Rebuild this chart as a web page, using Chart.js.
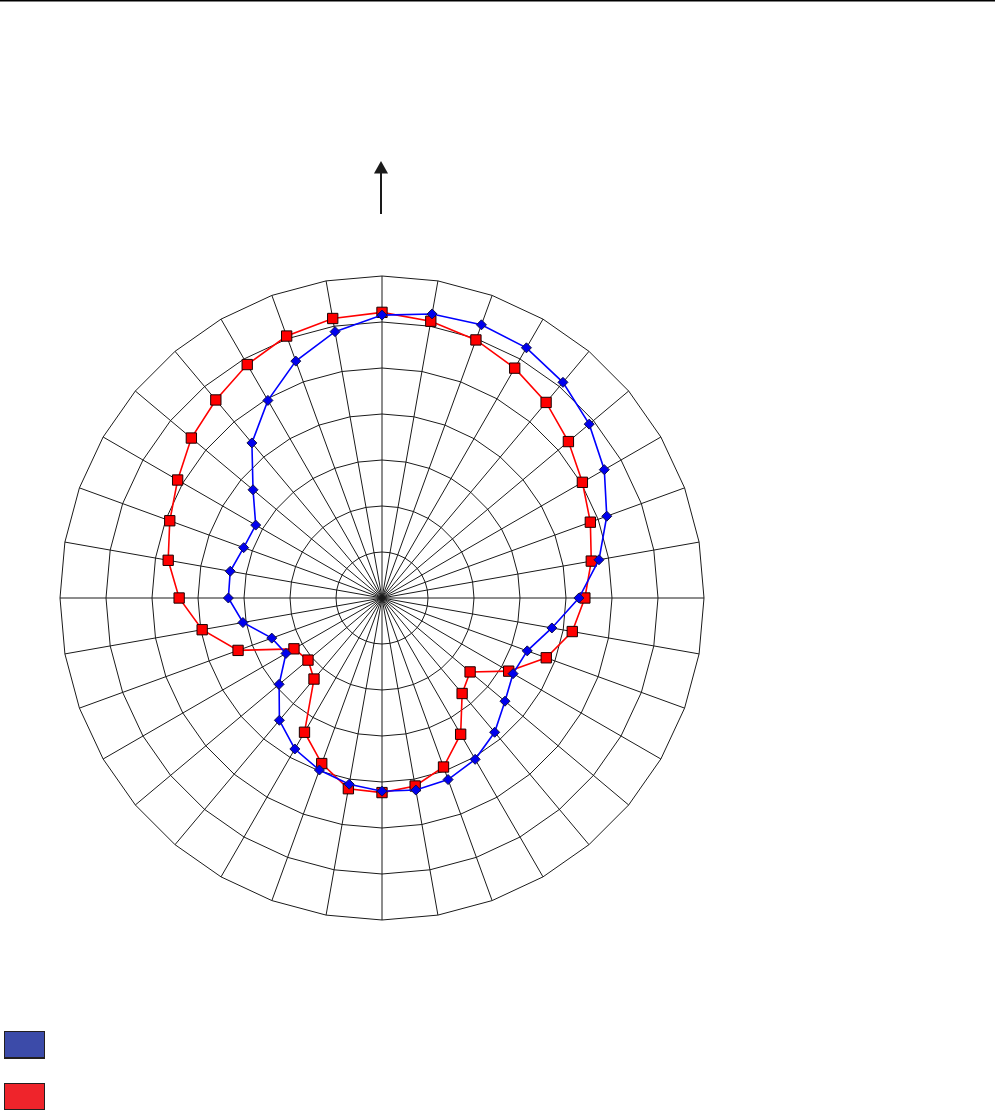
<!DOCTYPE html>
<html>
<head>
<meta charset="utf-8">
<script src="https://cdn.jsdelivr.net/npm/chart.js@4.4.1/dist/chart.umd.min.js"></script>
<style>
  html, body { margin: 0; padding: 0; background: #ffffff; }
  #wrap { position: relative; width: 999px; height: 1110px; overflow: hidden; }
  #c { position: absolute; left: 0; top: 0; }
  .lg { position: absolute; left: 4px; width: 39px; height: 25px; border: 1px solid #231f20; border-bottom-width: 2px; }
</style>
</head>
<body>
<div id="wrap">
  <canvas id="c" width="999" height="1110"></canvas>
  <div id="legend"></div>
</div>
<script>
// Directions (degrees, clockwise from north)
const directions = ['0','10','20','30','40','50','60','70','80','90','100','110','120','130','140','150','160','170',
                    '180','190','200','210','220','230','240','250','260','270','280','290','300','310','320','330','340','350'];
// Series values (radial units, 7 rings)
const blueSeries = [6.15, 6.27, 6.32, 6.28, 6.12, 5.88, 5.58, 5.20, 4.79, 4.28, 3.75, 3.36, 3.29, 3.49, 3.81, 4.05, 4.20, 4.24,
                    4.20, 4.11, 3.98, 3.79, 3.47, 2.92, 2.41, 2.55, 3.07, 3.34, 3.35, 3.20, 3.17, 3.66, 4.40, 4.96, 5.48, 5.88];
const redSeries  = [6.21, 6.11, 5.97, 5.77, 5.55, 5.29, 5.03, 4.82, 4.62, 4.41, 4.20, 3.80, 3.18, 2.50, 2.71, 3.42, 3.91, 4.15,
                    4.23, 4.21, 3.83, 3.37, 2.30, 2.10, 2.21, 3.33, 3.97, 4.41, 4.72, 4.91, 5.13, 5.41, 5.62, 5.86, 6.06, 6.17];
const radialMin = 0;
const radialMax = 7;
const radialStep = 1;
const legendColors = ['#3c4ba9', '#ef242b'];

const decor = {
  id: 'decor',
  afterDraw(chart) {
    const ctx = chart.ctx;
    const r = chart.scales.r;
    ctx.save();
    // top rule
    ctx.strokeStyle = '#000000';
    ctx.lineWidth = 1.5;
    ctx.beginPath();
    ctx.moveTo(0, 0.75);
    ctx.lineTo(995, 0.75);
    ctx.stroke();
    // north arrow
    const ax = r.xCenter - 1;
    ctx.strokeStyle = '#1a1a1a';
    ctx.fillStyle = '#1a1a1a';
    ctx.lineWidth = 2;
    ctx.beginPath();
    ctx.moveTo(ax, 214);
    ctx.lineTo(ax, 172);
    ctx.stroke();
    ctx.beginPath();
    ctx.moveTo(ax, 161);
    ctx.lineTo(ax + 7, 173.5);
    ctx.lineTo(ax - 7, 173.5);
    ctx.closePath();
    ctx.fill();
    ctx.restore();
  }
};

const chart = new Chart(document.getElementById('c'), {
  type: 'radar',
  data: {
    labels: directions,
    datasets: [
      {
        label: '',
        data: blueSeries,
        borderColor: '#0000ff',
        borderWidth: 1.6,
        backgroundColor: '#0000ee',
        pointBackgroundColor: '#0000ee',
        pointBorderColor: '#10104a',
        pointBorderWidth: 1,
        pointStyle: 'rectRot',
        pointRadius: 5,
        pointHoverRadius: 5,
        fill: false,
        tension: 0
      },
      {
        label: '',
        data: redSeries,
        borderColor: '#ff0000',
        borderWidth: 1.6,
        backgroundColor: '#ff0000',
        pointBackgroundColor: '#ff0000',
        pointBorderColor: '#1a0000',
        pointBorderWidth: 1,
        pointStyle: 'rect',
        pointRadius: 7.3,
        pointHoverRadius: 7.3,
        fill: false,
        tension: 0
      }
    ]
  },
  options: {
    responsive: false,
    animation: false,
    devicePixelRatio: 1,
    layout: { padding: { left: 60, top: 276, right: 295, bottom: 190 } },
    plugins: {
      legend: { display: false },
      tooltip: { enabled: false },
      title: { display: false }
    },
    scales: {
      r: {
        min: radialMin,
        max: radialMax,
        ticks: { display: false, stepSize: radialStep },
        pointLabels: { display: false },
        grid: { color: '#1a1a1a', lineWidth: 1, circular: false },
        angleLines: { color: '#1a1a1a', lineWidth: 1 }
      }
    }
  },
  plugins: [decor]
});

// legend boxes (no text in the original)
const lg = document.getElementById('legend');
legendColors.forEach((col, i) => {
  const d = document.createElement('div');
  d.className = 'lg';
  d.style.top = (1031 + i * 52) + 'px';
  d.style.background = col;
  lg.appendChild(d);
});
</script>
</body>
</html>
